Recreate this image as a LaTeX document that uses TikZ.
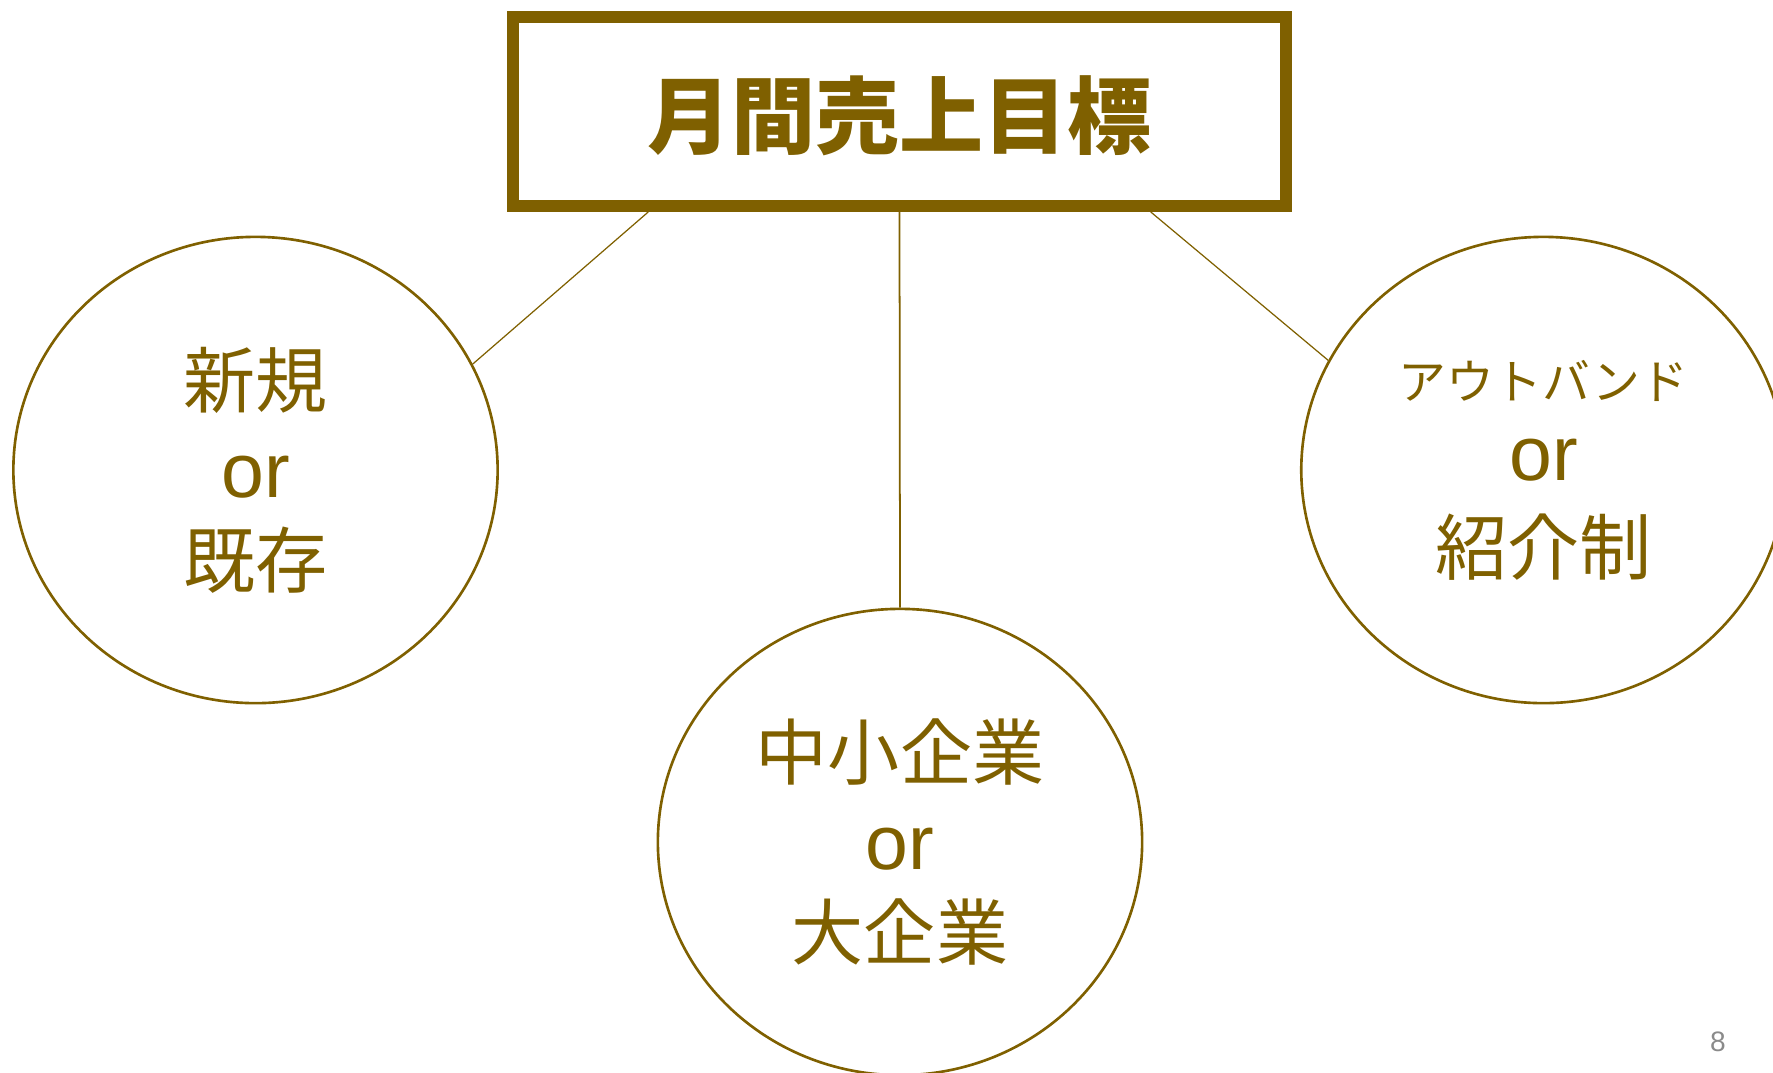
\documentclass[tikz,border=0pt]{standalone}
\usepackage{fontspec}
\usepackage{tikz}
\usetikzlibrary{positioning,calc,shapes.geometric}
\setmainfont{Liberation Sans}
\newfontfamily\jpfont{Noto Sans CJK JP}
\definecolor{goldbrown}{HTML}{7F6000}
\definecolor{pagegray}{HTML}{8A8A8A}

\begin{document}
\begin{tikzpicture}[
        x=0.01cm, y=-0.01cm,
        % define styles
        goalbox/.style={
            draw=goldbrown,
            line width=3.4pt,
            rectangle,
            minimum width=7.73cm,
            minimum height=1.89cm,
            text=goldbrown,
            font=\jpfont\bfseries\fontsize{23.9}{28}\selectfont
        },
        factor/.style={
            draw=goldbrown,
            line width=0.75pt,
            ellipse,
            inner sep=0pt,
            minimum width=4.84cm,
            minimum height=4.66cm,
            align=center,
            text=goldbrown,
            font=\jpfont\fontsize{20.5}{25.6}\selectfont
        },
        link/.style={
            draw=goldbrown,
            line width=0.35pt
        }
    ]
    \useasboundingbox (0,0) rectangle (1773,1072);

    % top box
    \node[goalbox] (goal) at (899.5,111.5) {\raisebox{-1.2pt}[\height][\depth]{月間売上目標}};

    % three circles below
    \node[factor] (newold) at (255.5,470)
        {新規\\{\rmfamily\fontsize{21.9}{25.6}\selectfont or}\\既存};
    \node[factor] (size) at (900,842)
        {中小企業\\{\rmfamily\fontsize{21.9}{25.6}\selectfont or}\\大企業};
    \node[factor] (channel) at (1543.4,470)
        {{\fontsize{13.6}{20}\selectfont アウトバンド}\\[-2.4pt]
         {\rmfamily\fontsize{21.9}{25.6}\selectfont or}\\[1pt]紹介制};

    % lines from box to circles
    \draw[link] ($(goal.south west)!0.18!(goal.south east)$) -- (newold.26.4);
    \draw[link, line width=0.5pt] (goal.south) -- (size.north);
    \draw[link] ($(goal.south west)!0.82!(goal.south east)$) -- (channel.153.6);

    % page number
    \node[text=pagegray, font=\fontsize{8}{10}\selectfont] (pageno) at (1718,1042) {8};
\end{tikzpicture}
\end{document}
